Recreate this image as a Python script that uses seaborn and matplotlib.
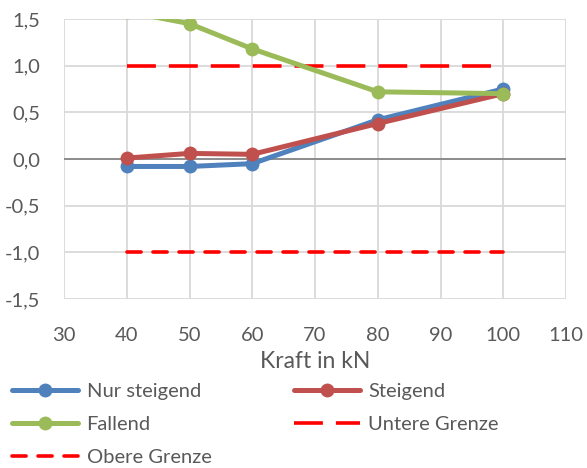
import matplotlib
matplotlib.use("Agg")
import matplotlib.pyplot as plt
import seaborn as sns
import pandas as pd
import numpy as np
from matplotlib.lines import Line2D

kraft = [40, 50, 60, 80, 100]
nur_steigend = [-0.08, -0.08, -0.05, 0.42, 0.75]
steigend = [0.01, 0.06, 0.05, 0.38, 0.70]
fallend = [1.58, 1.45, 1.18, 0.72, 0.70]
grenze_x = [40, 100]
untere_grenze = [1.0, 1.0]
obere_grenze = [-1.0, -1.0]
y_ticks = [-1.5, -1.0, -0.5, 0.0, 0.5, 1.0, 1.5]
x_ticks = [30, 40, 50, 60, 70, 80, 90, 100, 110]

sns.set_theme(style="white")
plt.rcParams['font.family'] = ['Lato', 'DejaVu Sans']

fig = plt.figure(figsize=(5.87, 4.68), dpi=100)
ax = fig.add_axes([64/587, 1-299/468, (566-64)/587, (299-19)/468])

df = pd.DataFrame({
    "Kraft": kraft * 3,
    "Wert": nur_steigend + steigend + fallend,
    "Serie": ["Nur steigend"] * 5 + ["Steigend"] * 5 + ["Fallend"] * 5,
})
colors = {"Nur steigend": "#4F81BD", "Steigend": "#C0504D", "Fallend": "#9BBB59"}

gridc = "#D9D9D9"
for xv in x_ticks:
    ax.axvline(xv, color=gridc, lw=1.3, zorder=0)
for yv in y_ticks:
    ax.axhline(yv, color=gridc, lw=1.3, zorder=0)
ax.axhline(0, color="#868686", lw=1.3, zorder=1)

lw_red = 2.6
ax.plot(grenze_x, untere_grenze, color="#FF0000", lw=lw_red, dashes=(8, 3.6), zorder=2)
ax.plot(grenze_x, obere_grenze, color="#FF0000", lw=lw_red, dashes=(3.9, 3.3),
        dash_capstyle="round", zorder=2)

sns.lineplot(data=df, x="Kraft", y="Wert", hue="Serie", palette=colors,
             marker="o", markersize=10, markeredgewidth=0, linewidth=3.6,
             ax=ax, legend=False, zorder=3)

ax.set_xlim(30, 110)
ax.set_ylim(-1.5, 1.5)
ax.set_xticks(x_ticks)
ax.set_yticks(y_ticks)
ax.set_yticklabels([f"{v:.1f}".replace(".", ",") for v in y_ticks])
ax.tick_params(axis="both", labelsize=14.5, colors="#595959", length=0)
ax.tick_params(axis="y", pad=17)
ax.tick_params(axis="x", pad=20)
for s in ax.spines.values():
    s.set_visible(False)
ax.set_xlabel("Kraft in kN", fontsize=16.5, color="#595959", labelpad=5)
ax.set_ylabel("")

def h(color, **kw):
    return Line2D([0], [0], color=color, **kw)

handles = [
    h("#4F81BD", lw=3.6, marker="o", markersize=10, markeredgewidth=0),
    h("#9BBB59", lw=3.6, marker="o", markersize=10, markeredgewidth=0),
    h("#FF0000", lw=lw_red, dashes=(3.9, 3.3), dash_capstyle="round"),
    h("#C0504D", lw=3.6, marker="o", markersize=10, markeredgewidth=0),
    h("#FF0000", lw=lw_red, dashes=(8, 3.6)),
]
labels = ["Nur steigend", "Fallend", "Obere Grenze", "Steigend", "Untere Grenze"]
leg = fig.legend(handles, labels, ncol=2, frameon=False, loc="upper left",
                 bbox_to_anchor=(12/587, 1-383/468), fontsize=14.5, handlelength=3.3,
                 handletextpad=0.4, columnspacing=4.1, labelspacing=0.78,
                 borderaxespad=0, borderpad=0)
for t in leg.get_texts():
    t.set_color("#595959")

fig.savefig("out.png", dpi=100)
